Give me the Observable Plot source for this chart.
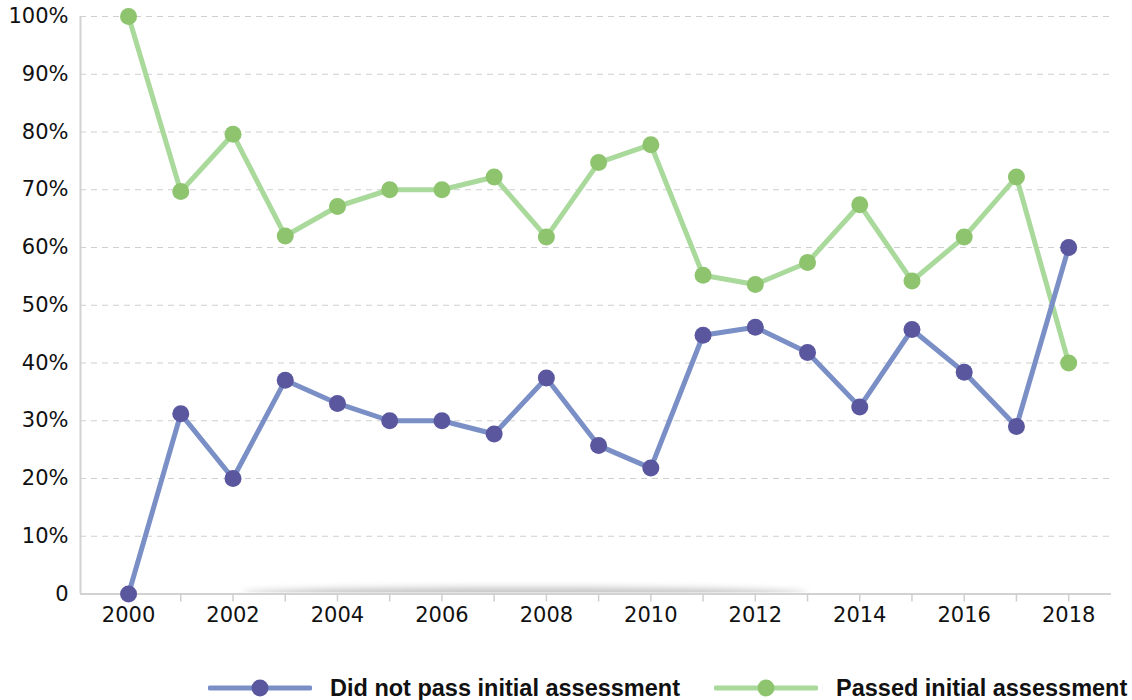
<!DOCTYPE html>
<html>
<head>
<meta charset="utf-8">
<script src="https://cdn.jsdelivr.net/npm/d3@7"></script>
<script src="https://cdn.jsdelivr.net/npm/@observablehq/plot@0.6"></script>
<style>
  body { margin: 0; background: #fff; font-family: "DejaVu Sans", sans-serif; }
  #legend { display: flex; justify-content: flex-start; align-items: center; height: 40px; margin-top: 28px;
    font-family: "Liberation Sans", Arial, sans-serif; font-weight: bold; font-size: 23.5px; color: #111; }
  .item { display: flex; align-items: center; }
  .item svg { margin-right: 18px; }
</style>
</head>
<body>
<div id="chart"></div>
<div id="legend"></div>
<script>
const years = [2000,2001,2002,2003,2004,2005,2006,2007,2008,2009,2010,2011,2012,2013,2014,2015,2016,2017,2018];
const didNotPass = [0,31.2,20,37,33,30,30,27.7,37.4,25.7,21.8,44.8,46.2,41.8,32.4,45.8,38.4,29,60];
const passed = [100,69.7,79.6,62,67.1,70,70,72.2,61.8,74.7,77.8,55.2,53.6,57.4,67.4,54.2,61.8,72.2,40];
const seriesNames = ["Did not pass initial assessment", "Passed initial assessment"];
const lineColors = ["#7b8fc7", "#a9d99b"];
const dotColors = ["#5b579f", "#8fc46f"];
const yTicks = [0,10,20,30,40,50,60,70,80,90,100];

const rowsA = years.map((y,i) => ({year: y, value: didNotPass[i]}));
const rowsB = years.map((y,i) => ({year: y, value: passed[i]}));

const W = 1132, H = 640;
const plot = Plot.plot({
  width: W, height: H,
  marginLeft: 80, marginRight: 21, marginTop: 16, marginBottom: 46.5,
  style: {fontFamily: "DejaVu Sans, sans-serif", fontSize: "21px", color: "#111", background: "#fff"},
  x: {type: "linear", domain: [1999.08, 2018.82]},
  y: {domain: [0, 100]},
  marks: [
    Plot.gridY(yTicks.slice(1), {stroke: "#cfcfcf", strokeOpacity: 1, strokeWidth: 1.2, strokeDasharray: "6,5"}),
    Plot.ruleY([0], {stroke: "#d2d2d2", strokeWidth: 2}),
    Plot.ruleX([1999.08], {stroke: "#d2d2d2", strokeWidth: 2}),
    Plot.axisY(yTicks, {tickSize: 0, tickPadding: 12, fontSize: 21, tickFormat: d => d === 0 ? "0" : d + "%", label: null}),
    Plot.axisX(years, {tickSize: 8, stroke: "#cfcfcf", strokeWidth: 1.5, tickPadding: 5, fontSize: 21,
      tickFormat: d => d % 2 === 0 ? String(d) : "", label: null}),
    Plot.line(rowsB, {x: "year", y: "value", stroke: lineColors[1], strokeWidth: 5}),
    Plot.line(rowsA, {x: "year", y: "value", stroke: lineColors[0], strokeWidth: 5}),
    Plot.dot(rowsB, {x: "year", y: "value", r: 8.5, fill: dotColors[1], stroke: "none"}),
    Plot.dot(rowsA, {x: "year", y: "value", r: 8.5, fill: dotColors[0], stroke: "none"})
  ]
});

// decorative shadow above the x axis line
const xs = plot.scale("x"), ys = plot.scale("y");
const svg = d3.select(plot);
const defs = svg.insert("defs", ":first-child");
defs.append("filter").attr("id", "blur").attr("x", "-20%").attr("y", "-200%").attr("width", "140%").attr("height", "500%")
  .append("feGaussianBlur").attr("stdDeviation", 3.5);
defs.append("clipPath").attr("id", "above")
  .append("rect").attr("x", 0).attr("y", 0).attr("width", W).attr("height", ys.apply(0) - 1);
svg.insert("g", "g[aria-label='line']").attr("clip-path", "url(#above)")
  .append("ellipse")
  .attr("cx", xs.apply(2007.6)).attr("cy", ys.apply(0))
  .attr("rx", xs.apply(2013) - xs.apply(2007.6)).attr("ry", 6)
  .attr("fill", "#8a8a8a").attr("opacity", 0.5).attr("filter", "url(#blur)");

document.getElementById("chart").appendChild(plot);

// legend
const legend = d3.select("#legend");
legend.style("padding-left", "208px");
seriesNames.forEach((name, i) => {
  const item = legend.append("div").attr("class", "item").style("margin-right", i === 0 ? "34px" : "0");
  const s = item.append("svg").attr("width", 104).attr("height", 24);
  s.append("line").attr("x1", 2).attr("x2", 102).attr("y1", 12).attr("y2", 12)
    .attr("stroke", lineColors[i]).attr("stroke-width", 5).attr("stroke-linecap", "round");
  s.append("circle").attr("cx", 52).attr("cy", 12).attr("r", 8.5).attr("fill", dotColors[i]);
  item.append("span").text(name);
});
</script>
</body>
</html>
